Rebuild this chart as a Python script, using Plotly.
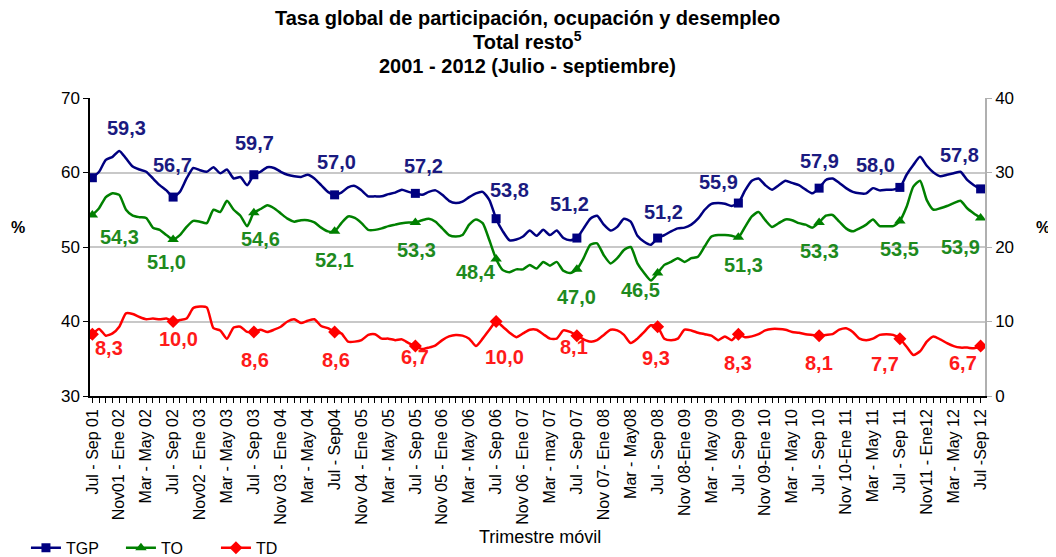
import plotly.graph_objects as go

# Trimestre móvil, Jul-Sep 2001 .. Jul-Sep 2012 (133 monthly rolling quarters)
tick_labels = [
    "Jul - Sep 01", "Nov01 - Ene 02", "Mar - May 02", "Jul - Sep 02",
    "Nov02 - Ene 03", "Mar - May 03", "Jul - Sep 03", "Nov 03 - Ene 04",
    "Mar - May 04", "Jul - Sep04", "Nov 04 - Ene 05", "Mar - May 05",
    "Jul - Sep 05", "Nov 05 - Ene 06", "Mar - May 06", "Jul - Sep 06",
    "Nov 06 - Ene 07", "Mar - may 07", "Jul - Sep 07", "Nov 07- Ene 08",
    "Mar - May08", "Jul - Sep 08", "Nov 08-Ene 09", "Mar - May 09",
    "Jul - Sep 09", "Nov 09-Ene 10", "Mar - May 10", "Jul - Sep 10",
    "Nov 10-Ene 11", "Mar - May 11", "Jul - Sep 11", "Nov11 - Ene12",
    "Mar - May 12", "Jul -Sep 12",
]

tgp = [
    59.3, 60.1, 61.7, 62.1, 62.9, 61.9, 60.8, 60.4, 60.1, 59.2, 58.3, 57.6,
    56.7, 57.4, 59.2, 60.6, 60.3, 60.1, 60.7, 59.9, 60.4, 59.2, 59.4, 58.3,
    59.7, 60.1, 60.7, 60.6, 60.1, 59.7, 59.5, 59.4, 59.7, 59.2, 58.3, 57.4,
    57.0, 57.3, 58.0, 58.2, 57.6, 56.8, 56.8, 56.8, 57.1, 57.3, 57.7, 57.4,
    57.2, 57.0, 57.4, 57.6, 57.0, 56.2, 55.9, 56.1, 56.7, 57.2, 57.4, 56.3,
    53.8, 52.1, 50.9, 51.0, 51.4, 52.2, 51.5, 52.3, 51.6, 52.2, 51.2, 50.9,
    51.2, 52.5, 53.8, 54.2, 53.0, 52.2, 52.7, 53.8, 53.4, 51.5, 50.7, 50.3,
    51.2, 51.6, 52.1, 52.5, 52.6, 53.0, 53.8, 55.0, 55.8, 55.9, 55.8, 55.5,
    55.9, 57.6, 58.9, 59.2, 58.3, 57.7, 58.3, 58.9, 58.6, 58.3, 57.7, 57.2,
    57.9, 59.0, 59.2, 58.6, 57.9, 57.4, 57.2, 57.2, 57.9, 57.6, 57.7, 57.7,
    58.0, 59.7, 61.0, 62.1, 60.9, 60.0, 59.5, 59.7, 59.9, 60.1, 59.0, 58.3,
    57.8,
]

to = [
    54.3, 55.2, 56.7, 57.2, 57.0, 55.0, 54.2, 54.0, 53.9, 52.6, 52.3, 51.6,
    51.0, 51.6, 52.7, 53.5, 53.4, 53.2, 55.0, 54.7, 56.2, 55.0, 54.2, 52.8,
    54.6, 55.1, 55.6, 55.2, 54.5, 53.8, 53.4, 53.6, 53.6, 53.3, 52.6, 52.1,
    52.1, 53.2, 54.1, 53.9, 53.2, 52.3, 52.3, 52.5, 52.8, 53.0, 53.2, 53.3,
    53.3, 53.6, 53.8, 53.4, 52.5, 51.6, 51.4, 51.6, 53.0, 53.7, 53.2, 50.9,
    48.4, 46.9, 46.6, 47.0, 47.0, 47.6, 47.1, 48.0, 47.5, 48.0, 46.8, 46.5,
    47.0, 48.5, 50.3, 50.5, 48.9, 47.8, 48.5, 49.6, 50.0, 47.8, 46.5, 45.5,
    46.5, 47.6, 48.0, 48.5, 48.0, 48.5, 48.7, 50.1, 51.4, 51.6, 51.6, 51.5,
    51.3, 52.7, 54.1, 54.7, 53.6, 52.7, 53.2, 53.7, 53.6, 53.2, 53.0, 52.6,
    53.3, 54.2, 54.3, 53.4, 52.5, 52.1, 52.5, 53.0, 53.7, 52.8, 52.8, 52.8,
    53.5, 55.4, 58.1, 58.9, 56.3, 55.0, 55.2, 55.5, 55.9, 56.2, 55.2, 54.5,
    53.9,
]

td = [
    8.3, 9.0, 8.1, 8.4, 9.3, 11.1, 11.0, 10.6, 10.3, 10.4, 10.3, 10.4,
    10.0, 10.2, 10.4, 11.8, 12.0, 11.9, 9.1, 8.8, 7.7, 9.2, 9.3, 8.6,
    8.6, 8.9, 8.6, 8.9, 9.3, 10.0, 10.3, 9.8, 10.1, 10.3, 9.4, 9.1,
    8.6, 8.4, 7.3, 7.3, 7.5, 8.2, 8.3, 7.7, 7.7, 7.5, 7.6, 7.1,
    6.7, 6.3, 6.5, 6.8, 7.5, 8.0, 8.2, 8.1, 7.7, 6.7, 7.7, 8.9,
    10.0, 9.3, 8.5, 7.9, 8.4, 8.9, 8.9, 8.3, 7.7, 7.7, 8.8, 8.6,
    8.1, 7.6, 7.3, 7.5, 8.2, 8.9, 8.8, 8.2, 7.1, 7.7, 8.6, 9.5,
    9.3, 7.7, 7.5, 7.7, 8.9, 8.8, 8.5, 8.3, 8.1, 7.5, 8.0, 7.5,
    8.3, 7.9, 8.0, 8.3, 8.8, 9.0, 9.0, 8.9, 8.6, 8.5, 8.3, 8.2,
    8.1, 8.2, 8.3, 8.9, 9.1, 8.6, 7.7, 7.5, 7.7, 8.2, 8.3, 8.2,
    7.7, 6.6, 5.5, 6.0, 7.3, 8.0, 7.6, 7.1, 6.7, 6.5, 6.5, 6.4,
    6.7,
]

x = list(range(len(tgp)))
tick_pos = x[::4]
year_pos = x[::12]

# label offsets (px) for the yearly data labels
tgp_off = [(34, 50), (-1, 32), (1, 32), (2, 33), (8, 27), (13, 29),
           (-7, 34), (6, 26), (-20, 21), (0, 27), (-24, 22), (-21, 34)]
to_off = [(27, -22), (-7, -22), (7, -26), (0, -29), (1, -28), (-20, -13),
          (0, -28), (-17, -17), (5, -28), (0, -29), (0, -28), (-20, -29)]
td_off = [(17, -14), (5, -17), (1, -28), (1, -28), (0, -11), (8, -35),
          (-3, -11), (-2, -31), (0, -29), (0, -27), (-15, -25), (-18, -17)]

FONT = "Arial, Liberation Sans, sans-serif"
series = [
    ("TGP", tgp, "#000080", "#1a1a80", "square", 9, "y", tgp_off),
    ("TO", to, "#008000", "#1e8a1e", "triangle-up", 10, "y", to_off),
    ("TD", td, "#ff0000", "#ff1a1a", "diamond", 10, "y2", td_off),
]

fig = go.Figure()
annotations = []
for name, vals, col, lcol, sym, ms, yax, offs in series:
    fig.add_trace(go.Scatter(
        x=x, y=vals, mode="lines", yaxis=yax, showlegend=False,
        line=dict(color=col, width=2.5, shape="spline", smoothing=0.6),
        hoverinfo="skip",
    ))
    yv = [vals[i] for i in year_pos]
    fig.add_trace(go.Scatter(
        x=year_pos, y=yv, mode="markers", yaxis=yax, showlegend=False,
        marker=dict(symbol=sym, size=ms, color=col),
    ))
    fig.add_trace(go.Scatter(
        x=[None], y=[None], mode="lines+markers", name=name, yaxis=yax,
        line=dict(color=col, width=2.5),
        marker=dict(symbol=sym, size=ms, color=col),
    ))
    for xi, v, (dx, dy) in zip(year_pos, yv, offs):
        annotations.append(dict(
            x=xi, y=v, xref="x", yref=yax, showarrow=False,
            xanchor="center", yanchor="middle",
            text=f"{v:.1f}".replace(".", ","), xshift=dx, yshift=dy,
            font=dict(family=FONT, size=20, color=lcol, weight="bold"),
        ))

titles = [
    ("<b>Tasa global de participación, ocupación y desempleo</b>", 1.268),
    ("<b>Total resto<sup>5</sup></b>", 1.193),
    ("<b>2001 - 2012 (Julio - septiembre)</b>", 1.107),
]
for t, yy in titles:
    annotations.append(dict(x=0.489, y=yy, xref="paper", yref="paper",
                            xanchor="center", yanchor="middle",
                            text=t, showarrow=False,
                            font=dict(family=FONT, size=20, color="black")))

annotations += [
    dict(x=-0.08, y=0.564, xref="paper", yref="paper", text="<b>%</b>",
         xanchor="center", yanchor="middle", showarrow=False,
         font=dict(family=FONT, size=16, color="black")),
    dict(x=1.065, y=0.564, xref="paper", yref="paper", text="<b>%</b>",
         xanchor="center", yanchor="middle", showarrow=False,
         font=dict(family=FONT, size=16, color="black")),
    dict(x=0.503, y=-0.473, xref="paper", yref="paper", text="Trimestre móvil",
         xanchor="center", yanchor="middle", showarrow=False,
         font=dict(family=FONT, size=18, color="black")),
]

# page body adds an 8px offset, so the margins are shifted to compensate
fig.update_layout(
    width=1056, height=557,
    margin=dict(l=82, r=79, t=90, b=169),
    paper_bgcolor="white", plot_bgcolor="white",
    font=dict(family=FONT, size=12, color="black"),
    annotations=annotations,
    showlegend=True,
    legend=dict(orientation="h", xref="container", yref="container",
                x=0.017, y=0.031, xanchor="left", yanchor="middle",
                font=dict(family=FONT, size=16), entrywidth=50,
                bgcolor="rgba(0,0,0,0)"),
    xaxis=dict(
        range=[-0.35, 132.65], tickmode="array", tickvals=tick_pos,
        ticktext=tick_labels, tickangle=-90, ticks="outside", ticklen=5,
        tickcolor="black", showline=True, linecolor="black", linewidth=1.5,
        showgrid=False, zeroline=False, tickfont=dict(size=16),
        automargin=False,
        minor=dict(dtick=1, tick0=0, ticks="outside", ticklen=5,
                   tickcolor="black", showgrid=False),
    ),
    yaxis=dict(
        range=[30, 70], dtick=10, ticks="outside", ticklen=5,
        tickcolor="black", showline=True, linecolor="black", linewidth=1.5,
        showgrid=True, gridcolor="#c8c8c8", gridwidth=1.5, zeroline=False,
        tickfont=dict(size=17), automargin=False,
    ),
    yaxis2=dict(
        range=[0, 40], dtick=10, overlaying="y", side="right",
        ticks="outside", ticklen=5, tickcolor="#b0b0b0",
        showline=True, linecolor="#b0b0b0", linewidth=1.5,
        showgrid=False, zeroline=False, tickfont=dict(size=17),
        automargin=False,
    ),
)

fig.write_html("out.html")
